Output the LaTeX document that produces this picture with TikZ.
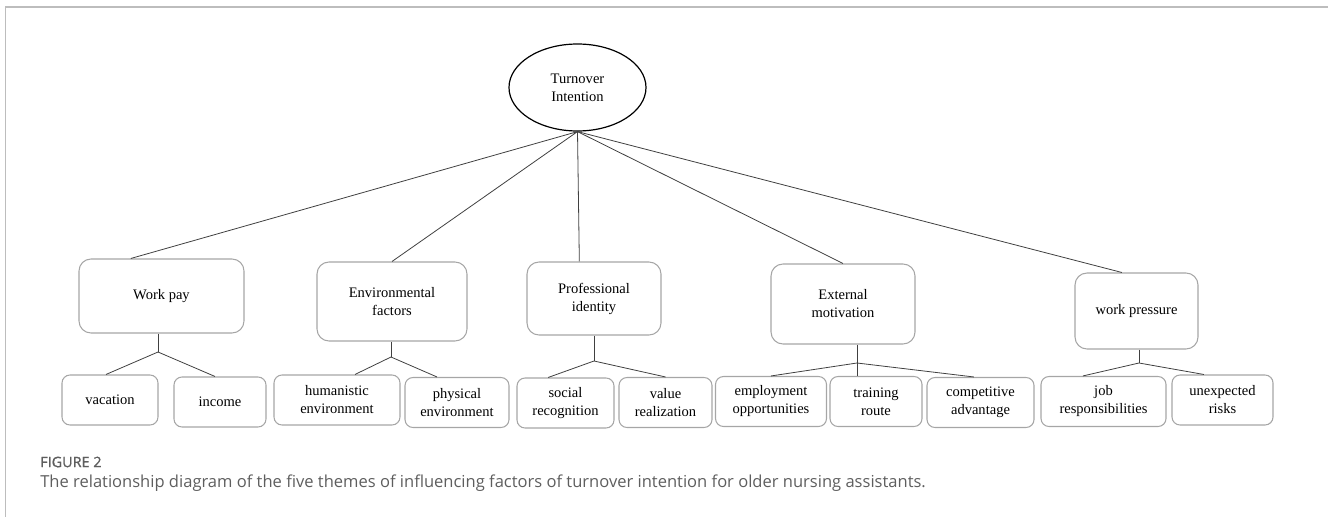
\documentclass[tikz,border=0pt]{standalone}
\usepackage{fontspec}
\setmainfont{Liberation Serif}
\newfontfamily\capfont{Open Sans}
\newfontfamily\figfont{Open Sans}[FakeBold=1.2]
\usetikzlibrary{shapes.geometric}
\definecolor{boxgray}{HTML}{A6A6A6}
\definecolor{linkgray}{HTML}{404040}
\definecolor{framegray}{HTML}{BDBDBD}
\definecolor{capgray}{HTML}{5E5E5E}
\begin{document}
\begin{tikzpicture}[
x=0.75pt, y=-0.75pt,
every node/.style={font=\fontsize{10.9}{13.5}\selectfont},
root/.style={draw, ellipse, line width=0.9pt, minimum width=102.75pt, minimum height=65.25pt, inner sep=0pt, align=center},
theme/.style={draw=boxgray, line width=0.8pt, rounded corners=9pt, inner sep=0pt, align=center},
leaf/.style={draw=boxgray, line width=0.8pt, rounded corners=6pt, inner sep=0pt, align=center, minimum height=37.5pt},
link/.style={draw=linkgray, line width=0.6pt},
]
\useasboundingbox (0,0) rectangle (1328,517);
\draw[framegray, line width=1.3pt] (5.5,517) -- (5.5,6.7) -- (1328,6.7);

\node[root] (ti) at (577.5,87.5) {Turnover\\Intention};

\node[theme, minimum width=123.75pt, minimum height=55.5pt] (wp) at (161.5,296) {Work pay};
\node[theme, minimum width=112.5pt, minimum height=59.25pt] (env) at (392,301.5) {Environmental\\factors};
\node[theme, minimum width=100.5pt, minimum height=54.75pt] (prof) at (594,298.5) {Professional\\identity};
\node[theme, minimum width=108pt, minimum height=60pt] (ext) at (843,304) {External\\motivation};
\node[theme, minimum width=92.25pt, minimum height=57pt] (pres) at (1136.5,311) {work pressure};

\node[leaf, minimum width=72pt] (vac) at (110,400) {vacation};
\node[leaf, minimum width=69pt] (inc) at (220,402) {income};
\node[leaf, minimum width=94.5pt] (hum) at (337,400) {humanistic\\environment};
\node[leaf, minimum width=78pt] (phy) at (457,402.5) {physical\\environment};
\node[leaf, minimum width=72.75pt] (soc) at (565.5,403) {social\\recognition};
\node[leaf, minimum width=69.75pt] (val) at (665.5,402.5) {value\\realization};
\node[leaf, minimum width=83.25pt] (emp) at (771,401.5) {employment\\opportunities};
\node[leaf, minimum width=69pt] (tra) at (876,401.5) {training\\route};
\node[leaf, minimum width=80.25pt] (com) at (980.5,402.5) {competitive\\advantage};
\node[leaf, minimum width=93.75pt] (job) at (1103.5,401.5) {job\\responsibilities};
\node[leaf, minimum width=75.75pt] (une) at (1222.5,400) {unexpected\\risks};

\coordinate (wpj) at (158,352);
\coordinate (envj) at (391,357);
\coordinate (profj) at (594,361);
\coordinate (extj) at (857,363);
\coordinate (presj) at (1139,363);

\draw[link] ([xshift=-23pt]wp.north) -- (ti.south) -- (env.north);
\draw[link] (ti.south) -- ([xshift=-11pt]prof.north);
\draw[link] (ti.south) -- (ext.north);
\draw[link] (ti.south) -- ([xshift=-11pt]pres.north);

\draw[link] (wp.south -| wpj) -- (wpj);
\draw[link] ([xshift=-3pt]vac.north) -- (wpj) -- ([xshift=-3.75pt]inc.north);
\draw[link] (env.south -| envj) -- (envj);
\draw[link] ([xshift=13.5pt]hum.north) -- (envj) -- ([xshift=-15pt]phy.north);
\draw[link] (prof.south -| profj) -- (profj);
\draw[link] ([xshift=-13pt]soc.north) -- (profj) -- (val.north);
\draw[link] (ext.south -| extj) -- (extj) -- (tra.north -| extj);
\draw[link] (emp.north) -- (extj) -- ([xshift=-5pt]com.north);
\draw[link] (pres.south -| presj) -- (presj);
\draw[link] ([xshift=-15.5pt]job.north) -- (presj) -- ([xshift=-14pt]une.north);

\node[anchor=west, inner sep=0pt, text=capgray, font=\figfont\fontsize{10.8}{12}\selectfont] (fig) at (40,462) {FIGURE 2};
\node[anchor=west, inner sep=0pt, text=capgray, font=\capfont\fontsize{12.4}{14}\selectfont] (cap) at (40,483) {The relationship diagram of the five themes of influencing factors of turnover intention for older nursing assistants.};
\end{tikzpicture}
\end{document}
